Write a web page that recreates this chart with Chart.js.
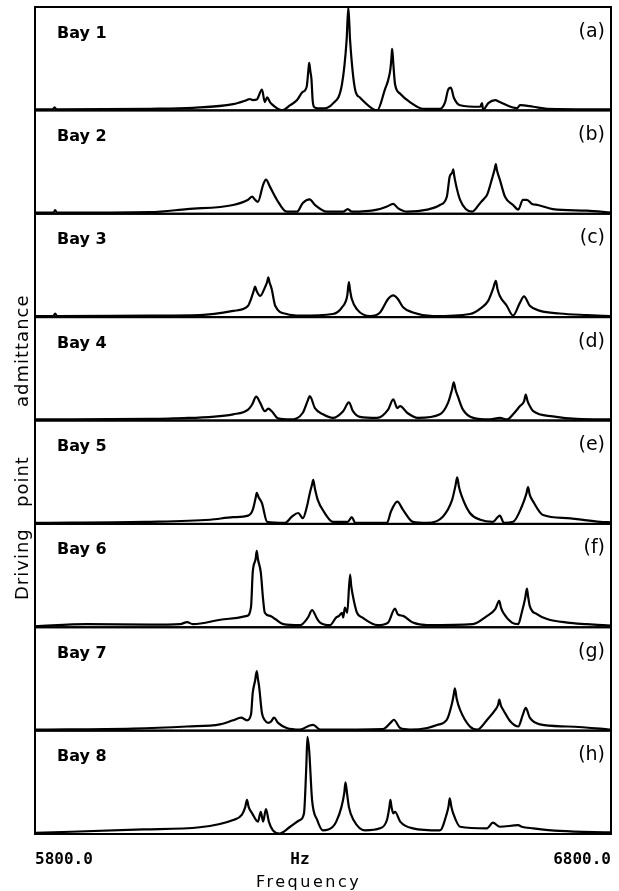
<!DOCTYPE html>
<html>
<head>
<meta charset="utf-8">
<title>Driving point admittance, Bays 1-8</title>
<script src="https://cdn.jsdelivr.net/npm/chart.js@4.4.1/dist/chart.umd.min.js"></script>
<style>
  html, body { margin: 0; padding: 0; background: #fff; }
  canvas { display: block; }
</style>
</head>
<body>
<canvas id="spectra" width="619" height="891"></canvas>
<script>
// Panel captions
const bayNames = ['Bay 1', 'Bay 2', 'Bay 3', 'Bay 4', 'Bay 5', 'Bay 6', 'Bay 7', 'Bay 8'];
const panelTags = ['(a)', '(b)', '(c)', '(d)', '(e)', '(f)', '(g)', '(h)'];

// Frequency axis labels
const tickHz = [5800, 6260, 6800];
const tickText = ['5800.0', 'Hz', '6800.0'];
const yTitleWords = ['Driving', 'point', 'admittance'];
const xTitle = 'Frequency';

// Measured spectra: frequency (Hz) and admittance magnitude (relative, 0-100)
const bay1Hz  = [5800, 5831, 5834, 5837, 6000, 6074, 6144, 6168, 6173, 6178, 6185, 6194, 6199, 6203, 6208, 6211, 6229, 6243, 6255, 6264, 6269, 6272, 6274.5, 6276, 6278, 6280, 6282, 6285, 6291, 6298, 6317, 6333, 6341, 6344, 6347, 6356, 6364, 6385, 6394, 6408, 6413, 6417, 6419, 6420, 6421.5, 6423, 6425, 6434, 6451, 6474, 6503, 6512, 6517, 6522, 6527, 6538, 6573, 6576, 6578, 6587, 6599, 6607, 6637, 6642, 6665, 6689, 6800];
const bay1Adm = [1, 1, 3, 1, 1.5, 2.5, 6, 10, 11, 10, 10.5, 20, 8, 12.5, 8, 6, 0, 5, 10, 17.5, 19.5, 24, 38, 46, 38, 30, 10, 3, 2, 2, 6.5, 25.5, 68, 100, 68, 19.5, 12.5, 2, 0, 21, 29, 40, 52, 59.5, 50, 38, 25.5, 16, 8, 1.5, 1.5, 8, 19.5, 22, 12.5, 5, 3.5, 7, 0.5, 7, 10, 8, 2, 5, 3.5, 1.5, 1];

const bay2Hz  = [5800, 5832, 5835, 5838, 6000, 6064, 6144, 6170, 6177, 6182, 6187, 6196, 6201, 6208, 6220, 6237, 6255, 6265, 6277, 6286, 6307, 6335, 6343, 6350, 6394, 6411, 6422, 6430, 6446, 6481, 6503, 6515, 6520, 6524.5, 6526, 6527.5, 6529, 6538, 6559, 6573, 6578, 6585, 6593, 6598, 6600, 6602, 6607, 6616, 6630, 6639, 6647, 6654, 6663, 6673, 6699, 6758, 6800];
const bay2Adm = [1, 1, 3.5, 1, 1.5, 4.5, 8.5, 13.5, 16.5, 13.5, 11.5, 28, 33, 26, 13.5, 2, 2, 10.5, 14, 8.5, 2, 2, 4.5, 2, 4, 7, 9.5, 5.5, 2, 4, 8.5, 16.5, 36, 40, 43, 38, 33, 13.5, 2, 10.5, 13.5, 18.5, 33, 43, 48, 42, 33, 16.5, 8.5, 4, 13.5, 13.5, 9.5, 8.5, 4.5, 3, 1];

const bay3Hz  = [5800, 5832, 5835, 5838, 6000, 6086, 6144, 6170, 6175, 6180, 6182, 6185, 6191, 6199, 6203, 6205, 6207, 6211, 6217, 6237, 6260, 6317, 6333, 6342, 6345, 6347, 6350, 6359, 6382, 6399, 6413, 6422, 6430, 6439, 6456, 6491, 6555, 6576, 6587, 6595, 6600, 6603, 6607, 6619, 6630, 6642, 6649, 6659, 6677, 6711, 6758, 6800];
const bay3Adm = [1, 1, 3.5, 1, 1.5, 2, 6, 11, 17.5, 26, 29.5, 25, 20.5, 28.5, 34, 38.5, 34, 27, 11, 3, 1.5, 3, 9.5, 20.5, 34, 26, 17.5, 7.5, 1, 4.5, 17.5, 21, 17.5, 9.5, 4.5, 1, 3, 9.5, 16, 27, 35, 27, 20.5, 11, 1.5, 14, 20, 11, 6, 3.5, 2, 1];

const bay4Hz  = [5800, 6000, 6040, 6144, 6170, 6177, 6184, 6191, 6199, 6205, 6211, 6222, 6243, 6265, 6274, 6277, 6286, 6300, 6317, 6335, 6345, 6352, 6364, 6394, 6413, 6422, 6429, 6434, 6446, 6465, 6503, 6517, 6524, 6527, 6530, 6534, 6543, 6561, 6590, 6607, 6620, 6630, 6642, 6649, 6652, 6655, 6659, 6665, 6699, 6741, 6800];
const bay4Adm = [1, 1.5, 2, 6, 10.5, 15.5, 23, 17, 9, 11.5, 9, 2, 1, 7.5, 20, 23.5, 12, 6, 2.5, 9, 17.5, 9, 3.5, 2.5, 10.5, 20.5, 12, 14, 7.5, 2.5, 6, 17, 30, 37, 30, 23.5, 10.5, 2.5, 1, 2.5, 1, 6, 14, 18.5, 25, 19, 14, 9, 4, 1.5, 1];

const bay5Hz  = [5800, 5990, 6104, 6144, 6170, 6178, 6183, 6185, 6188, 6194, 6203, 6234, 6246, 6257, 6265, 6272, 6277, 6281, 6283, 6286, 6291, 6303, 6317, 6343, 6350, 6356, 6411, 6418, 6429, 6439, 6456, 6481, 6508, 6524, 6530, 6533, 6536, 6541, 6555, 6573, 6595, 6607, 6614, 6630, 6645, 6653, 6656, 6659, 6665, 6682, 6724, 6781, 6800];
const bay5Adm = [1, 2, 4, 6.5, 8, 13.5, 25, 30, 26, 20, 2, 1, 7, 10.5, 5.5, 16.5, 29.5, 38, 42.5, 34, 23, 10.5, 2, 2, 6.5, 1, 1, 12, 21.5, 13.5, 2, 1, 7, 23, 37, 45, 36, 26.5, 10.5, 4, 2, 8, 1, 2, 16.5, 29, 35.5, 28, 21.5, 8.5, 5.5, 2, 1.5];

const bay6Hz  = [5800, 5890, 6000, 6052, 6064, 6074, 6133, 6168, 6175, 6178, 6183, 6185, 6187, 6192, 6196, 6199, 6208, 6217, 6231, 6260, 6274, 6281, 6290, 6295, 6312, 6323, 6328, 6333, 6335, 6338, 6342, 6347, 6349, 6352, 6359, 6368, 6395, 6413, 6425, 6430, 6439, 6456, 6481, 6560, 6585, 6599, 6606, 6609, 6613, 6628, 6639, 6645, 6651, 6654, 6656, 6659, 6672, 6689, 6724, 6758, 6786, 6800];
const bay6Adm = [1, 3, 2.5, 3, 5, 3, 8, 11, 19.5, 53, 66, 74, 66, 53, 27, 14, 11, 8, 3, 2, 9.5, 16.5, 8, 4.5, 2, 9.5, 11, 14, 9.5, 19, 14, 51, 40, 30, 14, 9.5, 2, 4.5, 18, 12.5, 11, 4.5, 2, 3, 11, 17.5, 25.5, 19, 14, 4.5, 3, 14, 28, 37.5, 30, 20.5, 12.5, 8, 4.5, 3, 2, 1.5];

const bay7Hz  = [5800, 5970, 6064, 6121, 6144, 6158, 6168, 6175, 6178, 6182, 6185, 6187, 6189, 6194, 6199, 6205, 6210, 6215, 6222, 6237, 6260, 6277, 6283, 6295, 6404, 6418, 6423, 6434, 6451, 6481, 6498, 6515, 6524, 6527, 6529, 6532, 6538, 6555, 6568, 6585, 6599, 6604, 6606, 6609, 6613, 6625, 6639, 6647, 6652, 6659, 6677, 6724, 6781, 6800];
const bay7Adm = [1, 2, 4, 6, 10, 12.5, 10, 15.5, 36.5, 48, 57.5, 50, 43, 17, 10, 7.5, 9, 12.5, 7.5, 2.5, 1, 5, 5.5, 1, 1.5, 8, 10.5, 2.5, 1, 2.5, 5.5, 10.5, 26.5, 35, 41, 31, 20, 4, 1, 10.5, 20, 25, 30, 24, 20, 9, 4, 15.5, 22, 12.5, 6, 4, 2, 1];

const bay8Hz  = [5800, 5988, 6086, 6144, 6159, 6165, 6168, 6171, 6177, 6187, 6192, 6196, 6201, 6206, 6213, 6225, 6243, 6260, 6267, 6271, 6273, 6276, 6281, 6290, 6300, 6317, 6323, 6332, 6337, 6339, 6342, 6345, 6353, 6373, 6399, 6411, 6415, 6417, 6419, 6422, 6425, 6434, 6456, 6503, 6515, 6518, 6520, 6523, 6526, 6538, 6585, 6595, 6607, 6639, 6645, 6665, 6711, 6800];
const bay8Adm = [1, 4.5, 6.5, 13.5, 18.5, 26, 33, 26, 20, 12, 21.5, 12, 24, 12, 3.5, 0.5, 7, 13.5, 20, 65, 94, 81, 33, 13.5, 3.5, 7, 12, 26, 40, 50, 38, 26, 13.5, 3.5, 5.5, 13.5, 25, 33, 26, 20, 21.5, 12, 5.5, 3.5, 20, 27, 34.5, 26, 20, 7, 5.5, 11, 7, 8.5, 7, 5.5, 3, 1.5];

const bayHz  = [bay1Hz, bay2Hz, bay3Hz, bay4Hz, bay5Hz, bay6Hz, bay7Hz, bay8Hz];
const bayAdm = [bay1Adm, bay2Adm, bay3Adm, bay4Adm, bay5Adm, bay6Adm, bay7Adm, bay8Adm];

// One dataset per bay, each on its own y axis; the y axes are stacked into strips.
const datasets = bayNames.map((name, i) => ({
  label: name,
  yAxisID: 'y' + (i + 1),
  data: bayHz[i].map((hz, k) => ({ x: hz, y: bayAdm[i][k] }))
}));

const scales = {
  x: {
    type: 'linear',
    min: 5800,
    max: 6800,
    position: 'bottom',
    grid: { display: false },
    border: { display: false },
    ticks: {
      autoSkip: false,
      maxRotation: 0,
      align: 'inner',
      padding: 8,
      color: '#000',
      font: { family: '"DejaVu Sans Mono"', weight: 'bold', size: 16 },
      callback: (value, index) => tickText[index]
    },
    afterBuildTicks: (scale) => { scale.ticks = tickHz.map(v => ({ value: v })); },
    afterFit: (scale) => { scale.height = 57; }
  }
};
bayNames.forEach((name, i) => {
  scales['y' + (i + 1)] = {
    type: 'linear',
    min: 0,
    max: 100,
    display: false,
    position: 'left',
    stack: 'bays',
    stackWeight: 1,
    weight: bayNames.length - i
  };
});

// Strip frames, panel captions and axis captions
const bayFrames = {
  id: 'bayFrames',
  afterDatasetsDraw(chart) {
    const { ctx, chartArea: a } = chart;
    ctx.save();
    ctx.strokeStyle = '#000';
    ctx.fillStyle = '#000';
    ctx.lineWidth = 2;
    bayNames.forEach((name, i) => {
      const s = chart.scales['y' + (i + 1)];
      ctx.strokeRect(a.left, s.top, a.right - a.left, s.bottom - s.top);
      ctx.textBaseline = 'alphabetic';
      ctx.font = 'bold 16px "DejaVu Sans"';
      ctx.textAlign = 'left';
      ctx.fillText(name, a.left + 22, s.top + 30.5);
      ctx.font = '19px "DejaVu Sans"';
      ctx.textAlign = 'right';
      ctx.fillText(panelTags[i], a.right - 6, s.top + 29.5);
    });

    // rotated y caption, word by word
    const wordStart = [600, 507, 407];
    ctx.font = '18px "DejaVu Sans"';
    ctx.textAlign = 'left';
    if ('letterSpacing' in ctx) ctx.letterSpacing = '1px';
    yTitleWords.forEach((w, k) => {
      ctx.save();
      ctx.translate(28, wordStart[k]);
      ctx.rotate(-Math.PI / 2);
      ctx.fillText(w, 0, 0);
      ctx.restore();
    });

    // x caption
    ctx.font = '16px "DejaVu Sans"';
    if ('letterSpacing' in ctx) ctx.letterSpacing = '2.5px';
    ctx.textAlign = 'left';
    ctx.fillText(xTitle, 256, 887);
    ctx.restore();
  }
};

new Chart(document.getElementById('spectra'), {
  type: 'line',
  data: { datasets },
  options: {
    responsive: false,
    animation: false,
    devicePixelRatio: 1,
    layout: { padding: { left: 35, right: 8, top: 7, bottom: 0 } },
    plugins: { legend: { display: false }, tooltip: { enabled: false }, title: { display: false } },
    elements: {
      point: { radius: 0, hoverRadius: 0 },
      line: { cubicInterpolationMode: 'monotone', borderWidth: 2.2, borderColor: '#000', borderJoinStyle: 'round', borderCapStyle: 'round', fill: false }
    },
    scales
  },
  plugins: [bayFrames]
});
</script>
</body>
</html>
